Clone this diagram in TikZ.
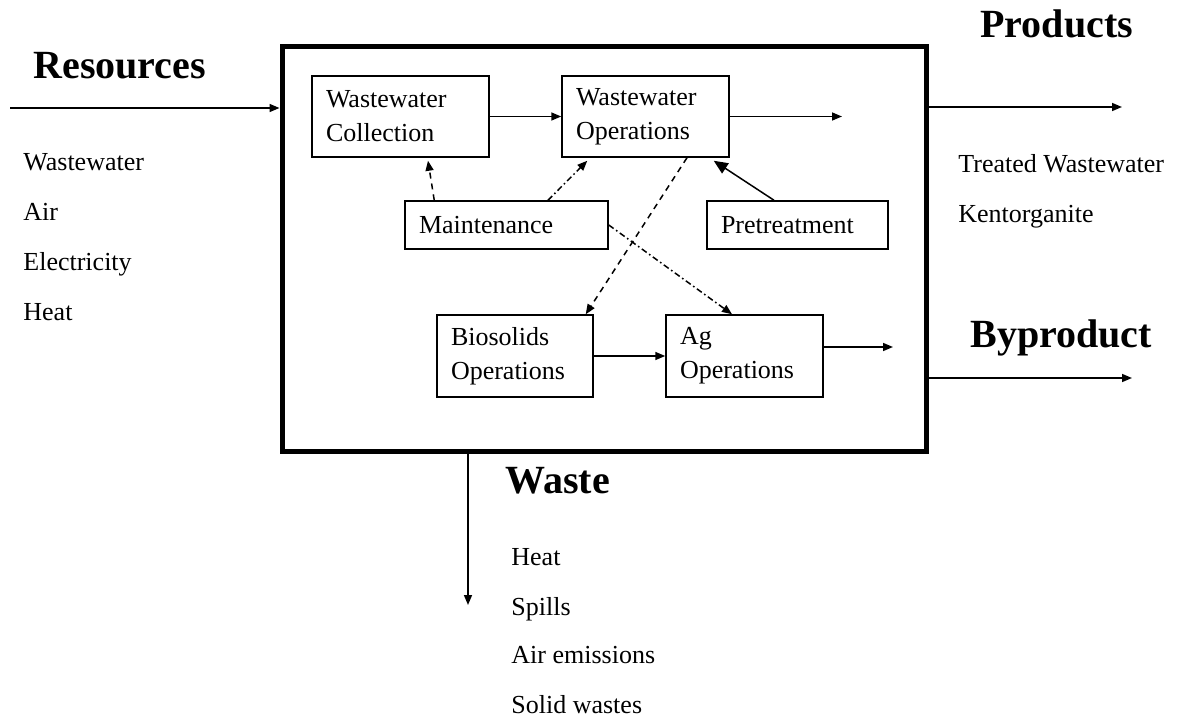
\documentclass[tikz,border=0pt]{standalone}
\usepackage{fontspec}
\setmainfont{Liberation Serif}
\usetikzlibrary{arrows.meta,positioning}

\begin{document}
\begin{tikzpicture}[x=0.5pt, y=-0.5pt,
    proc/.style={rectangle, draw, line width=0.75pt, align=left, inner xsep=7pt, inner ysep=0pt, font=\fontsize{13}{17}\selectfont},
    head/.style={anchor=base west, inner sep=0pt, font=\fontsize{20}{24}\selectfont\bfseries},
    item/.style={anchor=base west, inner sep=0pt, font=\fontsize{13}{16}\selectfont},
    flow/.style={-{Triangle[length=5pt,width=4pt]}, line width=0.75pt},
    dashflow/.style={flow, dash pattern=on 3pt off 2.5pt},
    dotflow/.style={flow, dash pattern=on 3pt off 1.5pt on 0.8pt off 1.5pt}
]
    \useasboundingbox (0,0) rectangle (1190,723);

    % Plant
    \node[draw, line width=2.5pt, inner sep=0pt, minimum width=322pt, minimum height=202.5pt] (plant) at (604,248.5) {};

    \node[proc, text width=74.5pt, minimum height=40.5pt] (wcol) at (400.5,116.5) {Wastewater\\Collection};
    \node[proc, text width=69.5pt, minimum height=40.5pt] (wops) at (645.5,116.5) {Wastewater\\Operations};
    \node[proc, text width=87.5pt, minimum height=24pt] (maint) at (506.5,225) {Maintenance};
    \node[proc, text width=76.5pt, minimum height=24pt] (pret) at (797.5,225) {Pretreatment};
    \node[proc, text width=64pt, minimum height=41pt] (bios) at (515,356) {Biosolids\\Operations};
    \node[proc, text width=64.5pt, minimum height=41pt] (agops) at (744.5,356) {Ag\\Operations};

    \coordinate (wout) at (842,116.5);
    \coordinate (agout) at (893,347);
    \coordinate (resin) at (10,108);
    \coordinate (prodout) at (1122,107);
    \coordinate (byout) at (1132,378);
    \coordinate (wasteout) at (468,605);

    % Arrows
    \draw[flow] (wcol) -- (wops);
    \draw[flow] (wops) -- (wout);
    \draw[flow] (bios) -- (agops);
    \draw[flow] ([yshift=4.5pt]agops.east) -- (agout);
    \draw[flow, -{Triangle[length=7pt,width=6pt]}] ([xshift=-11.75pt]pret.north) -- ([xshift=-8pt,yshift=-1.5pt]wops.south east);
    \draw[dashflow] ([xshift=15pt]maint.north west) -- ([xshift=13.75pt,yshift=-1.5pt]wcol.south);
    \draw[dotflow] ([xshift=20.75pt]maint.north) -- ([xshift=13pt,yshift=-1.5pt]wops.south west);
    \draw[dashflow] ([xshift=20.75pt]wops.south) -- ([xshift=-4pt]bios.north east);
    \draw[dotflow] (maint.east) -- ([xshift=-6.25pt]agops.north);

    \draw[flow] (resin) -- (resin -| plant.west);
    \draw[flow] (plant.east |- prodout) -- (prodout);
    \draw[flow] (plant.east |- byout) -- (byout);
    \draw[flow] (plant.south -| wasteout) -- (wasteout);

    % Labels
    \node[head] (res) at (33,78) {Resources};
    \node[head] (prod) at (980,37) {Products};
    \node[head] (byp) at (970,347) {Byproduct};
    \node[head] (wst) at (505,493) {Waste};

    \node[item] (r1) at (23,170) {Wastewater};
    \node[item] (r2) at (23,220) {Air};
    \node[item] (r3) at (23,270) {Electricity};
    \node[item] (r4) at (23,320) {Heat};

    \node[item] (p1) at (958,172) {Treated Wastewater};
    \node[item] (p2) at (958,222) {Kentorganite};

    \node[item] (w1) at (511,565) {Heat};
    \node[item] (w2) at (511,615) {Spills};
    \node[item] (w3) at (511,663) {Air emissions};
    \node[item] (w4) at (511,713) {Solid wastes};

\end{tikzpicture}
\end{document}
